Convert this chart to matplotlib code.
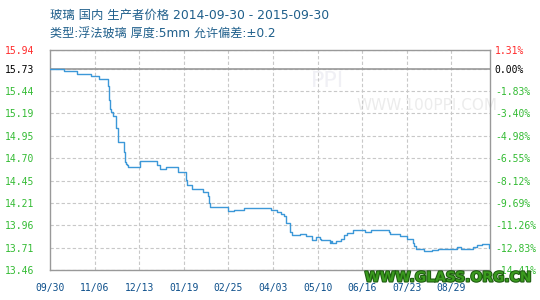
import matplotlib
matplotlib.use("Agg")
import matplotlib.pyplot as plt
import matplotlib.patheffects as pe
import pandas as pd

plt.rcParams['font.family'] = ['Noto Sans CJK SC', 'DejaVu Sans']

# price changes: (days after 2014-09-30, price)
change_days = [0, 12, 22, 34, 41, 48, 49, 50, 51, 52, 55, 56, 61, 62, 63, 64, 65,
               75, 89, 91, 96, 106, 113, 114, 118, 127, 131, 132, 133, 148, 151,
               153, 161, 183, 188, 192, 194, 196, 199, 201, 204, 207, 212, 217,
               221, 224, 225, 232, 233, 234, 237, 241, 244, 246, 251, 261, 266,
               281, 282, 290, 296, 301, 302, 304, 310, 317, 322, 338, 341, 351,
               354, 358, 364, 365]
prices = [15.73, 15.70, 15.67, 15.65, 15.61, 15.53, 15.38, 15.28, 15.24, 15.20,
          15.06, 14.90, 14.79, 14.68, 14.66, 14.64, 14.62, 14.69, 14.64, 14.60,
          14.62, 14.56, 14.48, 14.42, 14.37, 14.34, 14.29, 14.22, 14.17, 14.12,
          14.13, 14.14, 14.155, 14.14, 14.11, 14.09, 14.07, 13.99, 13.89, 13.85,
          13.86, 13.87, 13.84, 13.80, 13.83, 13.81, 13.80, 13.77, 13.79, 13.77,
          13.79, 13.81, 13.85, 13.88, 13.91, 13.885, 13.91, 13.885, 13.87, 13.84,
          13.81, 13.76, 13.73, 13.70, 13.67, 13.68, 13.70, 13.72, 13.70, 13.72,
          13.74, 13.75, 13.71, 13.71]

left_ticks = [15.94, 15.73, 15.44, 15.19, 14.95, 14.70, 14.45, 14.21, 13.96, 13.71, 13.46]
right_labels = ["1.31%", "0.00%", "-1.83%", "-3.40%", "-4.98%", "-6.55%", "-8.12%",
                "-9.69%", "-11.26%", "-12.83%", "-14.41%"]
x_labels = ["09/30", "11/06", "12/13", "01/19", "02/25", "04/03", "05/10",
            "06/16", "07/23", "08/29"]
base_price = 15.73

start = pd.Timestamp("2014-09-30")
dates = [start + pd.Timedelta(days=d) for d in change_days]
x_ticks = [start + pd.Timedelta(days=37 * i) for i in range(len(x_labels))]

fig = plt.figure(figsize=(5.4, 3.0), dpi=100)
ax = fig.add_axes([50 / 540, 0.1, 440 / 540, 220 / 300])

ax.set_xlim(start, start + pd.Timedelta(days=365))
y_lo, y_hi = 13.46, 15.94
ax.set_ylim(y_lo, y_hi)

# grid, equally spaced in pixels like the original
grid_y = [y_lo + k * (base_price - y_lo) / 9 for k in range(10)] + [y_hi]
for gy in grid_y:
    ax.axhline(gy, color="#c8c8c8", lw=0.8, ls=(0, (3, 2)), zorder=1)
for xt in x_ticks[1:]:
    ax.axvline(xt, color="#c8c8c8", lw=0.8, ls=(0, (3, 2)), zorder=1)
ax.axhline(base_price, color="#999999", lw=1.2, zorder=2)

# watermark
ax.text(0.857, 0.75, "WWW.100PPI.COM", transform=ax.transAxes, color="#ececec",
        fontsize=11, ha="center", va="center", family="DejaVu Sans", zorder=0)
ax.text(0.63, 0.86, "PPI", transform=ax.transAxes, color="#f0f0f5",
        fontsize=16, ha="center", va="center", family="DejaVu Sans", zorder=0)

ax.plot(dates, prices, drawstyle="steps-post", color="#3c98d8", lw=1.0, zorder=3)

for s in ax.spines.values():
    s.set_color("#999999")
    s.set_linewidth(1.0)

ax.set_xticks(x_ticks)
ax.set_xticklabels(x_labels)
ax.tick_params(axis="x", length=0, pad=9, labelsize=7, labelcolor="#0d4f8b")
for t in ax.get_xticklabels():
    t.set_family("DejaVu Sans Mono")

ax.set_yticks(grid_y)
ax.set_yticklabels([f"{v:.2f}" for v in left_ticks[::-1]])
ax.tick_params(axis="y", length=0, pad=11.5, labelsize=7)
left_colors = ["#ff2a2a", "#000000"] + ["#33bb33"] * 9
for t, c in zip(ax.get_yticklabels()[::-1], left_colors):
    t.set_color(c)
    t.set_family("DejaVu Sans Mono")

ax2 = ax.twinx()
ax2.set_ylim(y_lo, y_hi)
ax2.set_yticks(grid_y)
ax2.set_yticklabels(right_labels[::-1])
ax2.tick_params(axis="y", length=0, pad=3.5, labelsize=7)
for t, c in zip(ax2.get_yticklabels()[::-1], left_colors):
    t.set_color(c)
    t.set_family("DejaVu Sans Mono")
for s in ax2.spines.values():
    s.set_visible(False)

title_font = ['DejaVu Sans', 'Noto Sans CJK SC']
fig.text(50 / 540, 1 - 15 / 300, "玻璃 国内 生产者价格 2014-09-30 - 2015-09-30",
         color="#1f5f8b", fontsize=8.9, ha="left", va="center", family=title_font)
fig.text(50 / 540, 1 - 34.5 / 300, "类型:浮法玻璃 厚度:5mm 允许偏差:±0.2",
         color="#1f5f8b", fontsize=8.7, ha="left", va="center", family=title_font)

fig.text(448 / 540, 1 - 277.5 / 300, "WWW.GLASS.ORG.CN", color="#3a9a1e",
         fontsize=10, fontweight="bold", ha="center", va="center",
         family="DejaVu Sans",
         path_effects=[pe.withStroke(linewidth=1.5, foreground="#1d5a10")])

fig.savefig("out.png", dpi=100)
